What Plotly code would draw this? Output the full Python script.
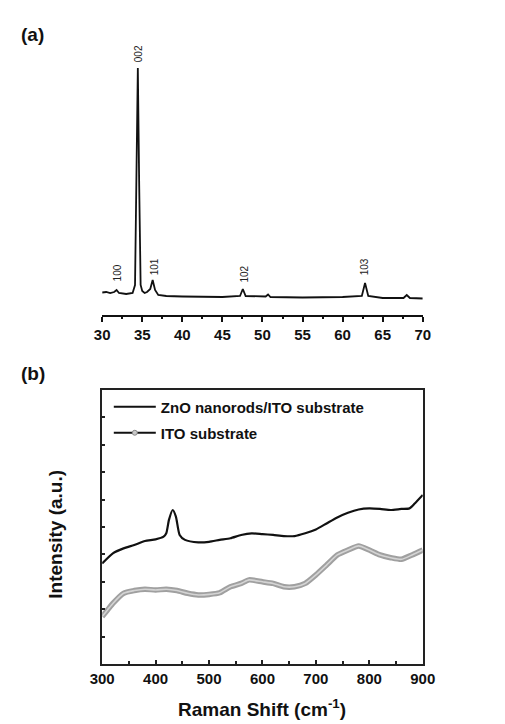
import plotly.graph_objects as go

# ---------------- Data ----------------
# (a) XRD pattern: 2-theta (deg) and intensity (a.u.)
xrd_2theta = [30.0, 30.5, 31.0, 31.5, 31.8, 32.1, 33.0, 33.8, 34.1, 34.28, 34.45, 34.62, 34.8,
              35.0, 35.3, 35.6, 36.0, 36.3, 36.6, 37.0, 38.0, 40.0, 45.0, 47.2, 47.55, 47.9,
              50.4, 50.7, 51.0, 55.0, 60.0, 62.4, 62.8, 63.2, 65.0, 67.6, 68.0, 68.4, 70.0]
xrd_intensity = [22.5, 23, 22, 23, 25, 22, 21, 22, 30, 130, 247, 130, 30,
                 24, 22, 23, 26, 35, 25, 20, 19, 18.5, 18, 19, 26, 19,
                 18.5, 20.5, 18, 17.5, 18, 19, 32, 19, 17, 17, 20, 17, 16.5]

# peak labels (hkl)
peak_labels = ["100", "002", "101", "102", "103"]
peak_label_x = [31.9, 34.62, 36.5, 47.7, 62.7]
peak_label_y = [42, 261, 48, 40.5, 48]

# (b) Raman spectra
raman_zno_x = [300, 320, 340, 360, 380, 400, 415, 420, 425, 432, 438, 445, 455, 480, 500, 520,
               540, 560, 580, 600, 620, 640, 660, 680, 700, 720, 740, 760, 780, 800, 820, 840,
               860, 875, 885, 900]
raman_zno_y = [3.67, 4.04, 4.22, 4.34, 4.49, 4.55, 4.65, 4.77, 5.26, 5.62, 5.38, 4.71, 4.53,
               4.44, 4.46, 4.53, 4.59, 4.71, 4.77, 4.74, 4.71, 4.67, 4.67, 4.77, 4.91, 5.13,
               5.35, 5.52, 5.64, 5.68, 5.66, 5.62, 5.66, 5.68, 5.86, 6.17]

raman_ito_x = [300, 310, 320, 340, 360, 380, 400, 420, 440, 460, 480, 500, 520, 540, 560, 575,
               600, 620, 640, 660, 680, 700, 720, 740, 760, 780, 800, 820, 840, 860, 880, 900]
raman_ito_y = [1.73, 1.97, 2.21, 2.58, 2.68, 2.73, 2.70, 2.73, 2.68, 2.58, 2.52, 2.54, 2.60,
               2.82, 2.94, 3.07, 3.00, 2.94, 2.82, 2.82, 2.94, 3.25, 3.61, 3.98, 4.16, 4.31,
               4.16, 3.98, 3.88, 3.82, 3.98, 4.16]

series_names = ["ZnO nanorods/ITO substrate", "ITO substrate"]

# ---------------- Figure ----------------
W, H = 505, 724
FONT = "Liberation Sans, Arial, sans-serif"

def py(pix):
    return 1 - pix / H

fig = go.Figure()

fig.add_trace(go.Scatter(x=xrd_2theta, y=xrd_intensity, mode="lines",
                         line=dict(color="#111111", width=1.8),
                         xaxis="x", yaxis="y", showlegend=False))

fig.add_trace(go.Scatter(x=raman_zno_x, y=raman_zno_y, mode="lines",
                         line=dict(color="#111111", width=2.2, shape="spline", smoothing=0.6),
                         xaxis="x2", yaxis="y2", name=series_names[0],
                         showlegend=True, legend="legend"))
fig.add_trace(go.Scatter(x=raman_ito_x, y=raman_ito_y, mode="lines",
                         line=dict(color="#a0a0a0", width=5.5, shape="spline", smoothing=0.6),
                         xaxis="x2", yaxis="y2", showlegend=False, hoverinfo="skip"))
fig.add_trace(go.Scatter(x=raman_ito_x, y=raman_ito_y, mode="lines",
                         line=dict(color="#d4d4d4", width=1.6, shape="spline", smoothing=0.6),
                         xaxis="x2", yaxis="y2", showlegend=False, name=series_names[1]))
fig.add_trace(go.Scatter(x=[None], y=[None], mode="lines+markers",
                         line=dict(color="#111111", width=2.2),
                         marker=dict(symbol="circle", size=5, color="#c8c8c8",
                                     line=dict(width=1, color="#888888")),
                         xaxis="x2", yaxis="y2", name=series_names[1],
                         showlegend=True, legend="legend2"))

xdom = [94 / W, 432 / W]

fig.update_layout(
    width=W, height=H,
    margin=dict(l=0, r=0, t=0, b=0),
    paper_bgcolor="white", plot_bgcolor="white",
    font=dict(family=FONT, color="#111111"),
    xaxis=dict(domain=xdom, range=[30, 70], anchor="y",
               showline=True, linecolor="#111111", linewidth=1.8,
               ticks="outside", ticklen=5, tickwidth=1.5, tickcolor="#111111",
               dtick=5, tick0=30, showgrid=False, zeroline=False,
               tickfont=dict(size=15, weight="bold", family=FONT, color="#111111"),
               minor=dict(dtick=2.5, tick0=30, ticks="outside", ticklen=2.5,
                          tickwidth=1.5, tickcolor="#111111", showgrid=False)),
    yaxis=dict(domain=[py(315), py(50)], range=[0, 265], anchor="x",
               visible=False, showgrid=False, zeroline=False),
    xaxis2=dict(domain=xdom, range=[300, 900], anchor="y2",
                showline=True, mirror=True, linecolor="#222222", linewidth=1.8,
                ticks="inside", ticklen=4, tickwidth=1.5, tickcolor="#222222",
                dtick=100, tick0=300, showgrid=False, zeroline=False,
                tickfont=dict(size=15, weight="bold", family=FONT, color="#111111"),
                minor=dict(dtick=50, tick0=300, ticks="inside", ticklen=3,
                           tickwidth=1.5, tickcolor="#222222", showgrid=False)),
    yaxis2=dict(domain=[py(664), py(390)], range=[0, 10], anchor="x2",
                showline=True, mirror=True, linecolor="#222222", linewidth=1.8,
                ticks="inside", ticklen=3, tickwidth=1.5, tickcolor="#222222",
                dtick=1, tick0=0, showticklabels=False,
                showgrid=False, zeroline=False),
    legend=dict(x=101 / W, y=py(407), xanchor="left", yanchor="middle",
                bgcolor="rgba(0,0,0,0)", itemwidth=42,
                font=dict(size=15, weight="bold", family=FONT, color="#111111")),
    legend2=dict(x=101 / W, y=py(433), xanchor="left", yanchor="middle",
                 bgcolor="rgba(0,0,0,0)", itemwidth=42,
                 font=dict(size=15, weight="bold", family=FONT, color="#111111")),
)

annotations = []
for lab, lx, ly in zip(peak_labels, peak_label_x, peak_label_y):
    annotations.append(dict(x=lx, y=ly, xref="x", yref="y", text=lab, showarrow=False,
                            textangle=-90, xanchor="center", yanchor="middle",
                            font=dict(size=10, color="#222222", family=FONT)))

annotations += [
    dict(x=6 / W, y=py(34.5), xref="paper", yref="paper", text="(a)", showarrow=False,
         xanchor="left", yanchor="middle",
         font=dict(size=19, weight="bold", family=FONT, color="#111111")),
    dict(x=6 / W, y=py(373), xref="paper", yref="paper", text="(b)", showarrow=False,
         xanchor="left", yanchor="middle",
         font=dict(size=19, weight="bold", family=FONT, color="#111111")),
    dict(x=263 / W, y=py(708), xref="paper", yref="paper",
         text="Raman Shift (cm<sup>-1</sup>)", showarrow=False,
         xanchor="center", yanchor="middle",
         font=dict(size=19, weight="bold", family=FONT, color="#111111")),
    dict(x=44 / W, y=py(534), xref="paper", yref="paper",
         text="Intensity (a.u.)", showarrow=False, textangle=-90,
         xanchor="center", yanchor="middle",
         font=dict(size=19, weight="bold", family=FONT, color="#111111")),
]
fig.update_layout(annotations=annotations)

fig.write_html("out.html")
